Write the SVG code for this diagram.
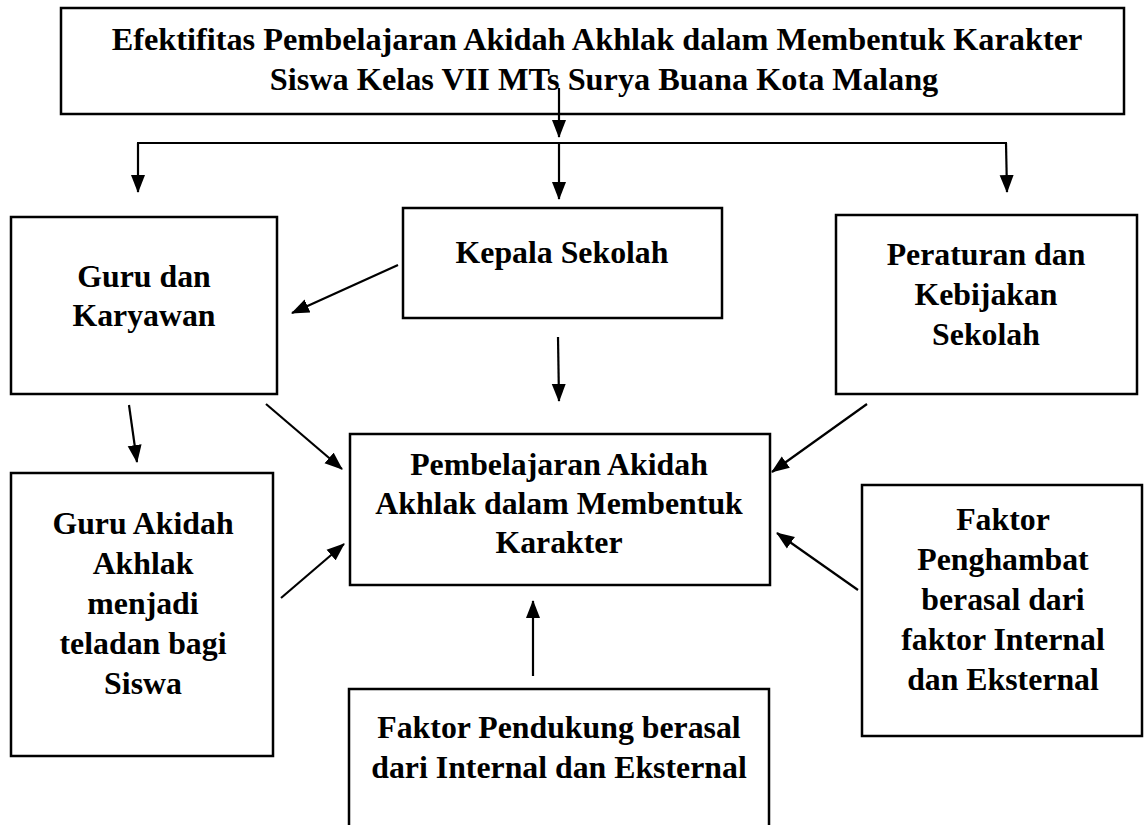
<svg xmlns="http://www.w3.org/2000/svg" width="1144" height="825" viewBox="0 0 1144 825">
<style>
.box{fill:#fff;stroke:#000;stroke-width:2.5}
.t{font-family:"Liberation Serif","Times New Roman",serif;font-weight:bold;font-size:31.8px;fill:#000;text-anchor:middle}
.tt{font-size:32.3px}
.c{stroke:#000;stroke-width:2.2;fill:none}
.a{marker-end:url(#ah)}
</style>
<defs>
<marker id="ah" markerUnits="userSpaceOnUse" markerWidth="18" markerHeight="15" refX="17" refY="7" orient="auto" viewBox="0 0 18 14">
<path d="M0,0 L18,7 L0,14 z" fill="#000"/>
</marker>
</defs>
<rect width="1144" height="825" fill="#fff"/>
<g id="title">
<rect class="box" x="61" y="8" width="1063" height="106"/>
<text class="t tt" x="597" y="50">Efektifitas Pembelajaran Akidah Akhlak dalam Membentuk Karakter</text>
<text class="t tt" x="604" y="90">Siswa Kelas VII MTs Surya Buana Kota Malang</text>
</g>
<g id="guru-karyawan">
<rect class="box" x="11" y="217" width="266" height="177"/>
<text class="t" x="144" y="287">Guru dan</text>
<text class="t" x="144" y="326">Karyawan</text>
</g>
<g id="kepala-sekolah">
<rect class="box" x="403" y="208" width="319" height="110"/>
<text class="t" x="562" y="263">Kepala Sekolah</text>
</g>
<g id="peraturan">
<rect class="box" x="836" y="215" width="301" height="179"/>
<text class="t" x="986" y="265">Peraturan dan</text>
<text class="t" x="986" y="305">Kebijakan</text>
<text class="t" x="986" y="345">Sekolah</text>
</g>
<g id="pembelajaran">
<rect class="box" x="350" y="434" width="420" height="151"/>
<text class="t" x="559" y="475">Pembelajaran Akidah</text>
<text class="t" x="559" y="514">Akhlak dalam Membentuk</text>
<text class="t" x="559" y="553">Karakter</text>
</g>
<g id="guru-akidah">
<rect class="box" x="11" y="473" width="262" height="283"/>
<text class="t" x="143" y="534">Guru Akidah</text>
<text class="t" x="143" y="574">Akhlak</text>
<text class="t" x="143" y="614">menjadi</text>
<text class="t" x="143" y="654">teladan bagi</text>
<text class="t" x="143" y="694">Siswa</text>
</g>
<g id="faktor-penghambat">
<rect class="box" x="862" y="485" width="280" height="251"/>
<text class="t" x="1003" y="530">Faktor</text>
<text class="t" x="1003" y="570">Penghambat</text>
<text class="t" x="1003" y="610">berasal dari</text>
<text class="t" x="1003" y="650">faktor Internal</text>
<text class="t" x="1003" y="690">dan Eksternal</text>
</g>
<g id="faktor-pendukung">
<rect class="box" x="349" y="689" width="420" height="150"/>
<text class="t" x="559" y="738">Faktor Pendukung berasal</text>
<text class="t" x="559" y="778">dari Internal dan Eksternal</text>
</g>
<g id="connectors">
<line class="c a" x1="559" y1="88" x2="559" y2="137"/>
<line class="c" x1="137" y1="143" x2="1007" y2="143"/>
<line class="c a" x1="138" y1="143" x2="138" y2="192"/>
<line class="c a" x1="559" y1="143" x2="559" y2="199"/>
<line class="c a" x1="1006" y1="143" x2="1007" y2="192"/>
<line class="c a" x1="398" y1="265" x2="292" y2="313"/>
<line class="c a" x1="558" y1="337" x2="559" y2="401"/>
<line class="c a" x1="129" y1="405" x2="137" y2="462"/>
<line class="c a" x1="266" y1="404" x2="342" y2="469"/>
<line class="c a" x1="867" y1="404" x2="772" y2="472"/>
<line class="c a" x1="281" y1="598" x2="344" y2="544"/>
<line class="c a" x1="858" y1="590" x2="777" y2="533"/>
<line class="c a" x1="533" y1="676" x2="533" y2="601"/>
</g>
</svg>
